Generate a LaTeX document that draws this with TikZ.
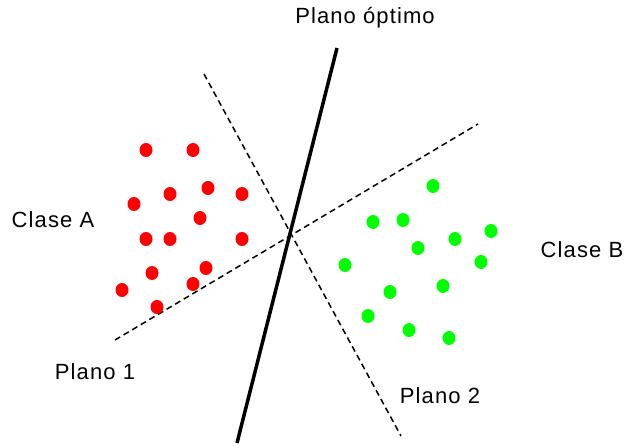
\documentclass[tikz,border=0pt]{standalone}
\usepackage{fontspec}
\setmainfont{Liberation Sans}[LetterSpace=5]
\usetikzlibrary{shapes.geometric}
\begin{document}
\begin{tikzpicture}[x=1pt,y=-1pt,
  lbl/.style={anchor=base,inner sep=0pt,font=\fontsize{22}{26}\selectfont},
  rdot/.style={ellipse,fill={rgb,255:red,255;green,0;blue,0},minimum width=13pt,minimum height=14pt,inner sep=0pt},
  gdot/.style={ellipse,fill={rgb,255:red,0;green,255;blue,0},minimum width=13pt,minimum height=14pt,inner sep=0pt},
  dline/.style={line width=1.5pt,dash pattern=on 6pt off 4pt},
  sline/.style={line width=3.5pt}]
\useasboundingbox (0,0) rectangle (624,446);
% lines
\coordinate (o1) at (337,48); \coordinate (o2) at (237,443);
\coordinate (p1a) at (115,340); \coordinate (p1b) at (478,124);
\coordinate (p2a) at (204,74); \coordinate (p2b) at (401,436);
\draw[dline] (p1a) -- (p1b);
\draw[dline] (p2a) -- (p2b);
\draw[sline] (o1) -- (o2);
% red dots
\foreach \x/\y [count=\i] in {146/150,193/150,208/188,170/194,242/194,134/204,200/218,146/239,170/239,242/239,152/273,206/268,193/284,122/290,157/307}
  \node[rdot] (r\i) at (\x,\y) {};
% green dots
\foreach \x/\y [count=\i] in {433/186,373/222,403/220,455/239,491/231,418/248,345/265,481/262,443/286,390/292,368/316,409/330,449/338}
  \node[gdot] (g\i) at (\x,\y) {};
% labels
\node[lbl] (top) at (365,24) {Plano óptimo};
\node[lbl] (ca) at (53,228) {Clase A};
\node[lbl] (cb) at (582,258) {Clase B};
\node[lbl] (pl1) at (95,379) {Plano 1};
\node[lbl] (pl2) at (440,403) {Plano 2};
\end{tikzpicture}
\end{document}
